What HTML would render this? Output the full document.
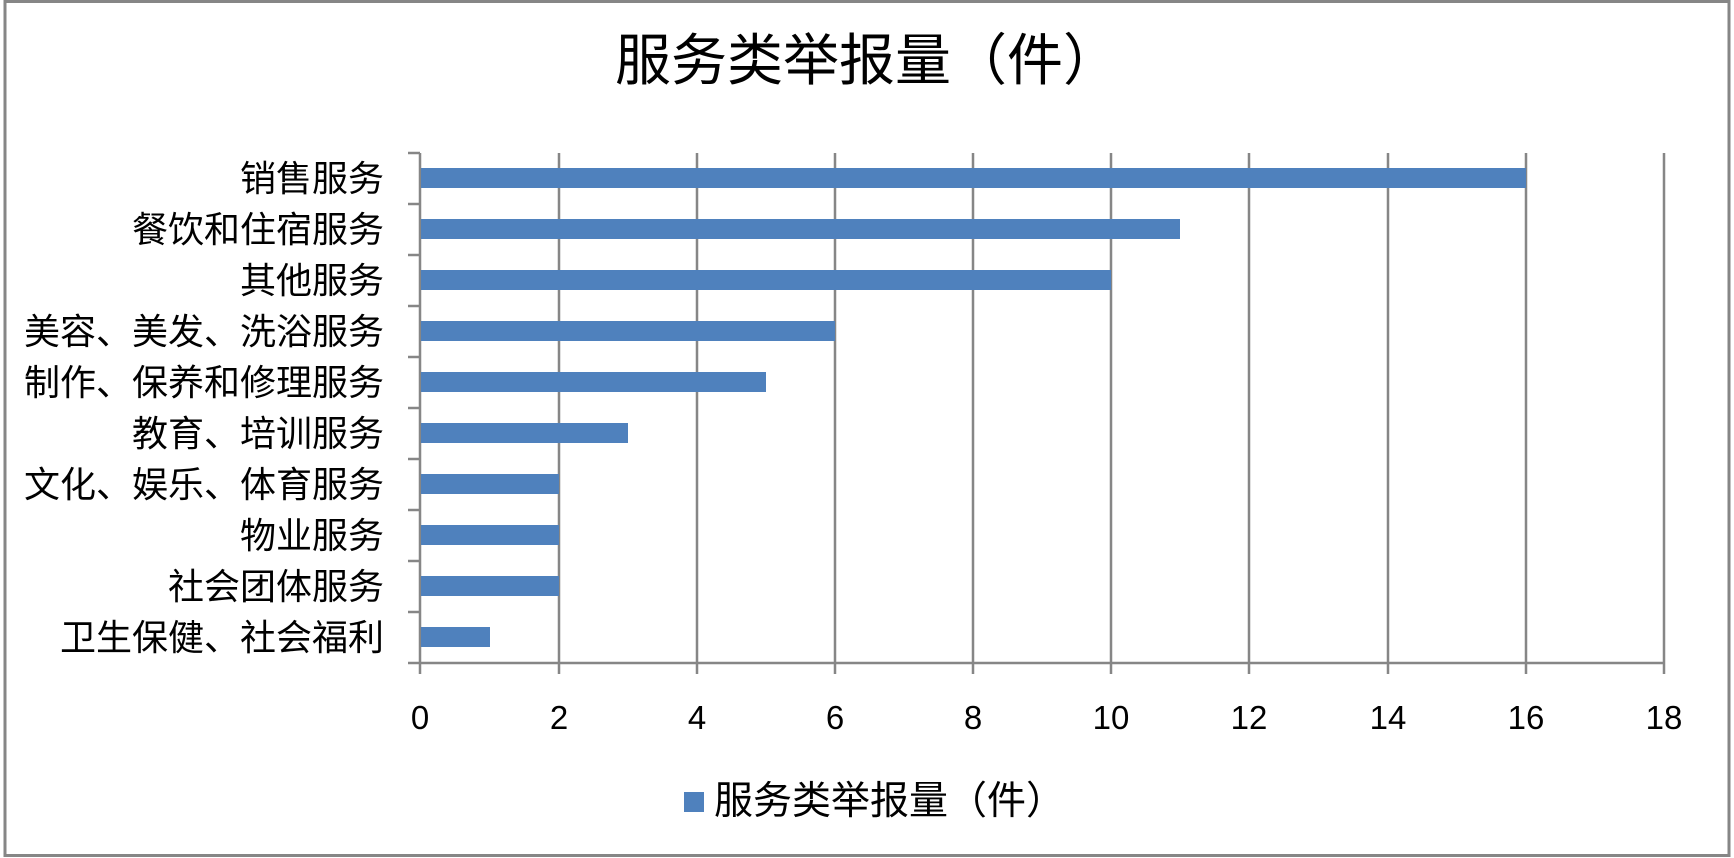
<!DOCTYPE html>
<html><head><meta charset="utf-8"><style>
body{margin:0;background:#fff}
svg{display:block}
text{font-family:"Liberation Sans","Noto Sans CJK SC",sans-serif;fill:#000}
</style></head><body>
<svg width="1734" height="858" viewBox="0 0 1734 858">
<rect x="5" y="1.5" width="1724" height="854" fill="#fff" stroke="#868686" stroke-width="3"/>
<text x="867" y="80" font-size="56" text-anchor="middle">服务类举报量（件）</text>
<g stroke="#868686" stroke-width="2.5">
<line x1="420" y1="153" x2="420" y2="674"/>
<line x1="559" y1="153" x2="559" y2="674"/>
<line x1="697" y1="153" x2="697" y2="674"/>
<line x1="835" y1="153" x2="835" y2="674"/>
<line x1="973" y1="153" x2="973" y2="674"/>
<line x1="1111" y1="153" x2="1111" y2="674"/>
<line x1="1249" y1="153" x2="1249" y2="674"/>
<line x1="1388" y1="153" x2="1388" y2="674"/>
<line x1="1526" y1="153" x2="1526" y2="674"/>
<line x1="1664" y1="153" x2="1664" y2="674"/>
<line x1="420" y1="663" x2="1664" y2="663"/>
<line x1="408" y1="153" x2="420" y2="153"/>
<line x1="408" y1="204" x2="420" y2="204"/>
<line x1="408" y1="255" x2="420" y2="255"/>
<line x1="408" y1="306" x2="420" y2="306"/>
<line x1="408" y1="357" x2="420" y2="357"/>
<line x1="408" y1="408" x2="420" y2="408"/>
<line x1="408" y1="459" x2="420" y2="459"/>
<line x1="408" y1="510" x2="420" y2="510"/>
<line x1="408" y1="561" x2="420" y2="561"/>
<line x1="408" y1="612" x2="420" y2="612"/>
<line x1="408" y1="663" x2="420" y2="663"/>
</g>
<g fill="#4F81BD">
<rect x="421" y="168" width="1105" height="20"/>
<rect x="421" y="219" width="759" height="20"/>
<rect x="421" y="270" width="690" height="20"/>
<rect x="421" y="321" width="414" height="20"/>
<rect x="421" y="372" width="345" height="20"/>
<rect x="421" y="423" width="207" height="20"/>
<rect x="421" y="474" width="138" height="20"/>
<rect x="421" y="525" width="138" height="20"/>
<rect x="421" y="576" width="138" height="20"/>
<rect x="421" y="627" width="69" height="20"/>
</g>
<g font-size="36" text-anchor="end">
<text x="384" y="191">销售服务</text>
<text x="384" y="242">餐饮和住宿服务</text>
<text x="384" y="293">其他服务</text>
<text x="384" y="344">美容、美发、洗浴服务</text>
<text x="384" y="395">制作、保养和修理服务</text>
<text x="384" y="446">教育、培训服务</text>
<text x="384" y="497">文化、娱乐、体育服务</text>
<text x="384" y="548">物业服务</text>
<text x="384" y="599">社会团体服务</text>
<text x="384" y="650">卫生保健、社会福利</text>
</g>
<g font-size="33" text-anchor="middle">
<text x="420" y="729">0</text><text x="559" y="729">2</text><text x="697" y="729">4</text>
<text x="835" y="729">6</text><text x="973" y="729">8</text><text x="1111" y="729">10</text>
<text x="1249" y="729">12</text><text x="1388" y="729">14</text><text x="1526" y="729">16</text>
<text x="1664" y="729">18</text>
</g>
<rect x="684" y="792" width="20" height="20" fill="#4F81BD"/>
<text x="714" y="814" font-size="39">服务类举报量（件）</text>
</svg>
</body></html>
